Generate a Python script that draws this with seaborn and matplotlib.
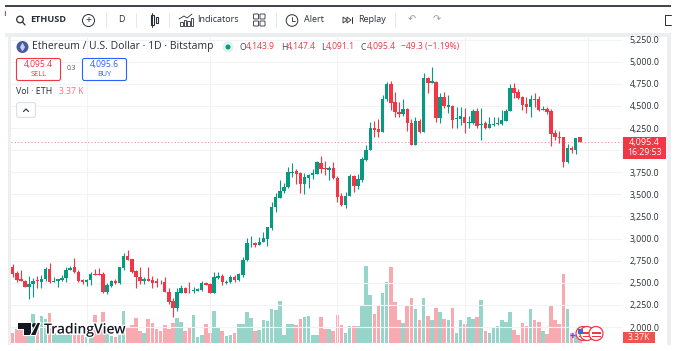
import numpy as np
import pandas as pd
import matplotlib
matplotlib.use("Agg")
import matplotlib.pyplot as plt
from matplotlib.patches import Rectangle, Circle, FancyBboxPatch, Polygon
import matplotlib.patheffects as pe
import seaborn as sns

open_ = [2675,2607,2539,2524,2456,2482,2531,2509,2539,2656,2512,2524,2531,2554,2645,2675,2622,2528,2513,2531,
         2599,2599,2599,2399,2464,2524,2494,2663,2803,2765,2633,2569,2520,2539,2531,2524,2524,2509,2399,2294,
         2211,2388,2437,2411,2407,2411,2418,2501,2482,2388,2558,2581,2502,2506,2570,2528,2589,2758,2946,2950,
         2928,2958,2995,3116,3361,3463,3538,3583,3746,3761,3738,3614,3689,3715,3734,3859,3795,3776,3798,3689,
         3482,3380,3482,3712,3595,3663,3889,4000,4255,4236,4209,4575,4745,4541,4432,4409,4466,4307,4062,4326,
         4210,4820,4764,4775,4364,4598,4492,4504,4349,4353,4379,4304,4307,4443,4281,4304,4251,4288,4296,4296,
         4334,4443,4703,4658,4598,4522,4488,4579,4579,4454,4470,4443,4194,4153,4145,3863,4025,4006,4143.9]
close = [2599,2531,2524,2456,2482,2520,2520,2539,2656,2509,2520,2543,2554,2648,2671,2622,2520,2513,2528,2599,
         2584,2588,2399,2471,2524,2494,2675,2803,2758,2626,2569,2524,2539,2524,2494,2494,2516,2399,2286,2211,
         2399,2437,2388,2403,2418,2426,2501,2479,2388,2569,2580,2506,2509,2566,2532,2604,2758,2947,2953,2928,
         2965,3003,3127,3361,3467,3538,3587,3753,3753,3731,3614,3700,3719,3738,3866,3787,3783,3798,3682,3474,
         3380,3486,3712,3599,3674,3900,4002,4255,4232,4209,4579,4745,4537,4428,4413,4466,4304,4062,4326,4206,
         4820,4764,4779,4364,4598,4496,4507,4341,4360,4387,4304,4319,4443,4277,4300,4251,4296,4300,4311,4341,
         4447,4703,4650,4590,4511,4492,4579,4571,4454,4470,4432,4187,4145,4138,3863,4025,4006,4138,4095.4]
high = [2712,2637,2645,2531,2577,2550,2577,2588,2682,2727,2569,2543,2588,2675,2690,2784,2645,2539,2546,2626,
        2656,2671,2626,2494,2531,2539,2682,2833,2871,2765,2645,2682,2562,2675,2577,2550,2531,2562,2437,2324,
        2437,2475,2456,2509,2456,2437,2516,2509,2501,2618,2626,2600,2532,2589,2589,2615,2796,3003,3029,2965,
        3014,3071,3127,3418,3519,3663,3633,3813,3851,3787,3757,3738,3731,3783,3878,3934,3878,3821,3862,3712,
        3519,3523,3731,3719,3731,3927,4059,4323,4330,4349,4624,4771,4782,4662,4541,4575,4481,4349,4372,4349,
        4869,4830,4945,4786,4643,4654,4624,4510,4492,4492,4481,4387,4462,4473,4473,4330,4379,4372,4372,4454,
        4462,4749,4756,4692,4613,4605,4624,4643,4617,4504,4492,4462,4228,4217,4153,4066,4047,4138,4147.4]
low = [2569,2513,2524,2448,2320,2343,2437,2437,2524,2494,2509,2456,2524,2513,2645,2614,2513,2482,2464,2475,
       2584,2588,2381,2373,2456,2486,2486,2645,2758,2614,2437,2486,2486,2516,2437,2456,2486,2399,2260,2117,
       2185,2381,2381,2388,2381,2403,2411,2471,2381,2381,2546,2475,2483,2498,2506,2521,2570,2747,2909,2901,
       2928,2958,2920,3097,3305,3463,3512,3576,3700,3614,3519,3504,3568,3670,3734,3746,3719,3663,3674,3418,
       3372,3350,3482,3531,3557,3644,3878,4000,4153,4153,4209,4560,4454,4372,4372,4387,4217,4062,4055,4198,
       4210,4651,4764,4323,4311,4473,4417,4247,4247,4285,4198,4247,4296,4247,4115,4236,4247,4277,4285,4285,
       4330,4443,4586,4575,4454,4417,4372,4492,4447,4454,4409,4047,4115,4078,3814,3859,3972,3957,4091.1]
volume_k = [5.8,7.9,10.1,5.0,4.5,16.3,7.3,15.3,13.3,16.6,5.4,4.5,4.5,4.5,5.0,4.5,4.5,4.5,3.6,4.5,
            15.7,5.4,17.4,5.4,3.9,3.2,4.5,18.1,8.8,10.1,14.0,6.7,5.8,13.7,11.0,7.9,6.7,10.1,8.0,11.2,
            14.0,12.0,6.7,8.4,15.5,3.2,4.7,10.8,5.8,18.0,8.4,6.9,3.9,4.3,5.8,10.8,10.5,17.4,14.2,6.7,
            7.3,12.9,12.2,18.9,18.5,23.6,4.7,10.8,10.5,10.1,13.5,14.6,15.1,4.7,4.7,14.4,7.9,7.9,6.9,15.5,
            10.1,5.4,9.7,9.7,9.7,20.6,43.2,26.7,16.3,20.8,27.9,34.0,42.4,22.8,12.9,11.2,20.6,25.4,18.9,13.1,
            25.2,15.1,13.1,19.6,17.4,13.3,12.7,19.6,5.6,13.1,10.8,14.4,13.7,14.6,24.1,6.7,5.8,8.4,9.4,13.1,
            12.0,17.4,7.1,4.5,11.2,9.4,18.9,13.1,11.6,6.7,5.0,20.8,12.9,10.7,38.5,18.9,5.4,4.5,3.37]

price_ticks = [5250,5000,4750,4500,4250,4000,3750,3500,3250,3000,2750,2500,2250,2000]
price_labels = ["5,250.0","5,000.0","4,750.0","4,500.0","4,250.0","","3,750.0","3,500.0","3,250.0",
                "3,000.0","2,750.0","2,500.0","2,250.0","2,000.0"]
month_starts = [18,48,79,110,140]
last_close = 4095.4

UP, DOWN = "#089981", "#F23645"
TEXT = "#2A2E39"

sns.set_theme(style="white")
plt.rcParams['font.family'] = ['Open Sans', 'DejaVu Sans']

df = pd.DataFrame({"i": np.arange(len(close)), "open": open_, "close": close,
                   "high": high, "low": low, "vol": volume_k})
df["dir"] = np.where(df.close >= df.open, "up", "down")
df["lo"] = df[["open", "close"]].min(axis=1)
df["span"] = (df.open - df.close).abs().clip(lower=8)

W, H = 682, 351
fig = plt.figure(figsize=(W/100, H/100), dpi=100, facecolor="white")

# Background bands sit under the chart so the tick labels stay readable
bg = fig.add_axes([0, 0, 1, 1], zorder=0)
bg.set_xlim(0, W); bg.set_ylim(H, 0); bg.axis("off")
for x0, y0, x1, y1 in [(5, 33, 671, 37), (8, 37, 11, 345), (667, 37, 671, 345)]:
    bg.add_patch(Rectangle((x0, y0), x1-x0, y1-y0, color="#EDEEF0", lw=0))

L, R, T, B = 11, 622, 37, 345
ax = fig.add_axes([L/W, 1-B/H, (R-L)/W, (B-T)/H], zorder=2)
ax2 = ax.twinx()
ax2.set_zorder(1)
ax.patch.set_visible(False)
ax2.patch.set_visible(False)

sns.barplot(df, x="i", y="vol", hue="dir", palette={"up": UP, "down": DOWN}, hue_order=["up", "down"],
            native_scale=True, dodge=False, legend=False, width=0.88, alpha=0.42, linewidth=0,
            saturation=1, errorbar=None, ax=ax2)

for name, col in (("up", UP), ("down", DOWN)):
    sub = df[df.dir == name]
    ax.vlines(sub.i, sub.low, sub.high, color=col, lw=0.8, zorder=2)
    sns.barplot(sub, x="i", y="span", bottom=sub["lo"].to_numpy(), native_scale=True, color=col, width=0.84,
                linewidth=0, saturation=1, errorbar=None, ax=ax, zorder=3)

ax.axhline(last_close, color=DOWN, lw=0.8, ls=(0, (1, 2)), alpha=0.55, zorder=1)

ax.set_xlim((L-12.67)/4.11, (R-12.67)/4.11)
ax.set_ylim(2000+(327-B)*11.31, 2000+(327-T)*11.31)
ax2.set_ylim((343-B)*0.56, (343-T)*0.56)
ax2.set_xlabel(""); ax2.set_ylabel(""); ax.set_xlabel(""); ax.set_ylabel("")
ax2.set_yticks([]); ax2.tick_params(length=0)
ax.set_xticks(month_starts); ax.set_xticklabels([""]*len(month_starts))
ax.set_yticks(price_ticks); ax.set_yticklabels(price_labels)
ax.yaxis.tick_right()
ax.tick_params(axis="y", length=0, pad=5.5, labelsize=6.3, labelcolor=TEXT)
ax.tick_params(axis="x", length=0)
ax.grid(True, color="#F2F3F5", lw=0.8)
ax.set_axisbelow(True)
ax2.xaxis.set_visible(False)
for a in (ax, ax2):
    for s in a.spines.values():
        s.set_visible(False)

# Pixel-space overlay for the screenshot chrome
ov = fig.add_axes([0, 0, 1, 1], zorder=5)
ov.set_xlim(0, W); ov.set_ylim(H, 0); ov.axis("off"); ov.patch.set_visible(False)

def txt(x, y, s, size=6.3, color=TEXT, weight="normal", ha="left", **kw):
    return ov.text(x, y, s, fontsize=size, color=color, fontweight=weight, ha=ha, va="center", **kw)

def rect(x0, y0, x1, y1, **kw):
    ov.add_patch(Rectangle((x0, y0), x1-x0, y1-y0, linewidth=kw.pop("lw", 0), **kw))

rect(5, 5, 671, 7, color="#434651")
rect(5, 11, 6, 16, color=DOWN)

# toolbar
ov.add_patch(Circle((20, 19.5), 3.3, fill=False, ec=TEXT, lw=0.9))
ov.plot([22.5, 25], [22, 25], color=TEXT, lw=0.9)
txt(30, 20, "ETHUSD", 6.6, TEXT, "bold")
ov.add_patch(Circle((88.5, 20.5), 6, fill=False, ec=TEXT, lw=0.7))
txt(88.5, 20.5, "+", 7.5, ha="center")
txt(121, 20, "D", 6.3, ha="center")
rect(150.5, 15, 153.5, 25, fill=False, ec=TEXT, lw=0.8)
ov.plot([152, 152], [13, 27], color=TEXT, lw=0.7)
rect(155.5, 17, 158, 23, fill=False, ec=TEXT, lw=0.8)
for bx, bh in zip([180, 183.5, 187, 190.5], [4, 6, 5, 8]):
    rect(bx, 26-bh, bx+2.5, 26, fill=False, ec=TEXT, lw=0.6)
ov.plot([179, 184, 187, 192], [19, 16, 18, 14], color=TEXT, lw=0.6)
txt(197, 20, "Indicators", 6.5)
for cx, cy in [(256, 16.5), (262.5, 16.5), (256, 23.5), (262.5, 23.5)]:
    ov.add_patch(FancyBboxPatch((cx-2, cy-2), 4, 4, boxstyle="round,pad=0.5", fill=False, ec=TEXT, lw=0.6))
ov.add_patch(Circle((292, 20.5), 5.8, fill=False, ec=TEXT, lw=0.7))
ov.plot([292, 292, 295], [17, 21, 21], color=TEXT, lw=0.6)
txt(304, 20, "Alert", 6.5)
ov.add_patch(Polygon([[347, 20], [343, 17], [343, 23]], closed=True, fill=False, ec=TEXT, lw=0.6))
ov.add_patch(Polygon([[351, 20], [347, 17], [347, 23]], closed=True, fill=False, ec=TEXT, lw=0.6))
ov.plot([351.5, 351.5], [17, 23], color=TEXT, lw=0.7)
txt(358, 20, "Replay", 6.5)
txt(411.5, 19.5, "\u21B6", 7, "#9598A1", ha="center", family="DejaVu Sans")
txt(437, 19.5, "\u21B7", 7, "#9598A1", ha="center", family="DejaVu Sans")
for sx in (105.5, 136, 169, 275.5, 395):
    ov.plot([sx, sx], [13, 27], color="#E6E7EA", lw=0.7)
ov.plot([671, 665, 665, 671], [15, 15, 25, 25], color=TEXT, lw=0.7)

# legend row
ov.add_patch(Circle((22.5, 47), 6, color="#4A5A9E", lw=0))
ov.add_patch(Polygon([[22.5, 42.5], [25, 47.2], [22.5, 51.5], [20, 47.2]], closed=True, color="#C9D0EE", lw=0))
txt(32, 47, "Ethereum / U.S. Dollar \u00B7 1D \u00B7 Bitstamp", 7.5, "#2A2E39")
ov.add_patch(Circle((228, 47), 5.5, color="#DDF3EE", lw=0))
ov.add_patch(Circle((228, 47), 2.5, color=UP, lw=0))
for x, lab, xv, val in [(240, "O", 246, "4,143.9"), (281, "H", 287, "4,147.4"),
                        (321, "L", 326, "4,091.1"), (360.5, "C", 367, "4,095.4")]:
    txt(x, 47, lab, 6.2, "#434651")
    txt(xv, 47, val, 6.2, DOWN)
txt(401, 47, "\u221249.3 (\u22121.19%)", 6.2, DOWN)

# buy/sell
ov.add_patch(FancyBboxPatch((17, 59), 43, 21, boxstyle="round,pad=0.5,rounding_size=2", fc="white", ec=DOWN, lw=0.8))
txt(38.5, 64.5, "4,095.4", 6.2, DOWN, ha="center")
txt(38.5, 74, "SELL", 5.3, DOWN, ha="center")
txt(71, 69, "0.3", 4.9, "#50535E", ha="center")
ov.add_patch(FancyBboxPatch((83, 59), 43, 21, boxstyle="round,pad=0.5,rounding_size=2", fc="white", ec="#2962FF", lw=0.8))
txt(104.5, 64.5, "4,095.6", 6.2, "#2962FF", ha="center")
txt(104.5, 74, "BUY", 5.3, "#2962FF", ha="center")

txt(16, 92, "Vol \u00B7 ETH", 6.4)
txt(59, 92, "3.37 K", 6.2, "#F7727D")
ov.add_patch(FancyBboxPatch((17, 103), 18, 14, boxstyle="round,pad=0.3,rounding_size=2", fc="white", ec="#D1D4DC", lw=0.6))
ov.plot([23.5, 26, 28.5], [111.5, 109, 111.5], color=TEXT, lw=0.8)

# price labels
rect(623, 137, 666, 159, color=DOWN)
txt(644.5, 143, "4,095.4", 6.6, "white", ha="center")
txt(644.5, 152.5, "16:29:53", 6.3, "white", ha="center")
rect(623, 332, 655, 343, color="#EF5350")
txt(639, 337.5, "3.37K", 6.3, "white", ha="center")

# TradingView watermark
halo = [pe.withStroke(linewidth=1.5, foreground="white")]
ov.add_patch(Polygon([[18, 323], [30.5, 323], [30.5, 335], [24, 335], [24, 329], [18, 329]],
                     closed=True, color="#131722", lw=0, path_effects=halo))
ov.add_patch(Circle((34.5, 325.5), 2.4, color="#131722", lw=0))
ov.add_patch(Polygon([[37.5, 323], [40, 323], [35.5, 335], [31, 335]], closed=True, color="#131722", lw=0, path_effects=halo))
txt(44, 329.5, "TradingView", 10, "#131722", "semibold", path_effects=[pe.withStroke(linewidth=2, foreground="white")])

# event markers
ov.text(573, 336.5, "\u271A", fontsize=5, color="#7B3FF2", ha="center", va="center", family="DejaVu Sans")
for cx in (583, 587, 596):
    ov.add_patch(Circle((cx, 333.5), 7, fc="white", ec="#F23645", lw=0.9))
    rect(cx-4.5, 332, cx+4.5, 333.5, color="#F23645")
    rect(cx-4.5, 335.5, cx+4.5, 337, color="#F23645")
rect(578, 329, 583, 333.5, color="#2F6FD8")

fig.savefig("out.png", dpi=100, facecolor="white")
